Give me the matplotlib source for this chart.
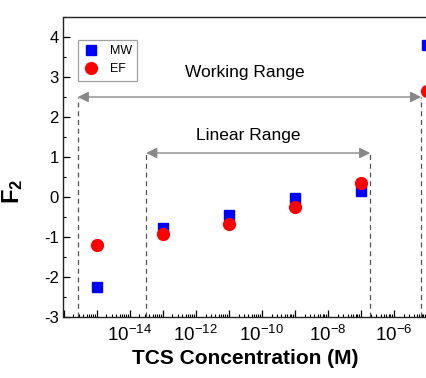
import numpy as np
import matplotlib
matplotlib.use("Agg")
import matplotlib.pyplot as plt

plt.rcParams['font.family'] = ['Liberation Sans', 'DejaVu Sans']
plt.rcParams['mathtext.fontset'] = 'custom'
plt.rcParams['mathtext.rm'] = 'Liberation Sans'
plt.rcParams['mathtext.bf'] = 'Liberation Sans:bold'
plt.rcParams['axes.unicode_minus'] = False

# data
conc = [1e-15, 1e-13, 1e-11, 1e-9, 1e-7, 1e-5]
mw = [-2.26, -0.77, -0.45, -0.03, 0.16, 3.80]
ef = [-1.20, -0.93, -0.67, -0.26, 0.36, 2.66]

x_decades = list(range(-16, -3))
x_labelled = [-14, -12, -10, -8, -6]
y_ticks = [-3, -2, -1, 0, 1, 2, 3, 4]

working_range = (2.7e-16, 6.8e-6)
linear_range = (3.2e-14, 1.95e-7)
working_y = 2.5
linear_y = 1.1

fig = plt.figure(figsize=(4.26, 3.78), dpi=100)
W, H = 426, 378
# axes runs past the right edge of the picture (cropped like the original)
ax = fig.add_axes([63.5 / W, (H - 317) / H, 396.2 / W, 300 / H])

ax.set_xscale('log')
ax.set_xlim(10 ** -15.95, 1e-4)
ax.set_ylim(-3, 4.5)

# range markers
for xs, y in [(working_range, working_y), (linear_range, linear_y)]:
    for xv in xs:
        ax.plot([xv, xv], [-3, y], ls=(0, (4, 3)), color='#555555', lw=0.9, zorder=1)
    ax.annotate('', xy=(xs[0], y), xytext=(xs[1], y),
                arrowprops=dict(arrowstyle='<|-|>', color='#888888', lw=1.0,
                                mutation_scale=16, shrinkA=0, shrinkB=0))
ax.text(10 ** -10.5, 3.12, 'Working Range', ha='center', va='center', fontsize=12.5)
ax.text(10 ** -10.4, 1.53, 'Linear Range', ha='center', va='center', fontsize=12.5)

ax.plot(conc, mw, 's', color='#0000ff', ms=7.5, ls='none', label='MW', zorder=3)
ax.plot(conc, ef, 'o', color='#ff0000', ms=8.5, ls='none', label='EF', zorder=3)

ax.set_xticks([10.0 ** d for d in x_decades])
ax.set_xticklabels(['$10^{%d}$' % d if d in x_labelled else '' for d in x_decades])
ax.xaxis.set_minor_locator(matplotlib.ticker.LogLocator(base=10, subs=np.arange(2, 10), numticks=30))
ax.xaxis.set_minor_formatter(matplotlib.ticker.NullFormatter())
ax.set_yticks(y_ticks)
ax.yaxis.set_minor_locator(matplotlib.ticker.MultipleLocator(0.5))

ax.tick_params(which='both', direction='in', top=False, right=False, labelsize=12)
ax.tick_params(axis='x', which='major', labelsize=13.5, pad=5)
ax.tick_params(which='major', length=5, width=0.9)
ax.tick_params(which='minor', length=2.5, width=0.8)
for s in ax.spines.values():
    s.set_linewidth(1.0)
    s.set_color('#222222')

ax.set_xlabel('TCS Concentration (M)', fontsize=15, fontweight='bold')
ax.xaxis.set_label_coords(0.458, -0.105)
ax.set_ylabel('$\\mathbf{F_2}$', fontsize=17)
ax.yaxis.set_label_coords(-0.098, 0.42)

leg = ax.legend(loc='upper left', bbox_to_anchor=(0.02, 0.945), fontsize=9,
                fancybox=False, edgecolor='#888888', handletextpad=0.9,
                borderpad=0.45, labelspacing=0.45, handlelength=1.2)
leg.get_frame().set_linewidth(0.9)

fig.savefig('out.png', dpi=100)
